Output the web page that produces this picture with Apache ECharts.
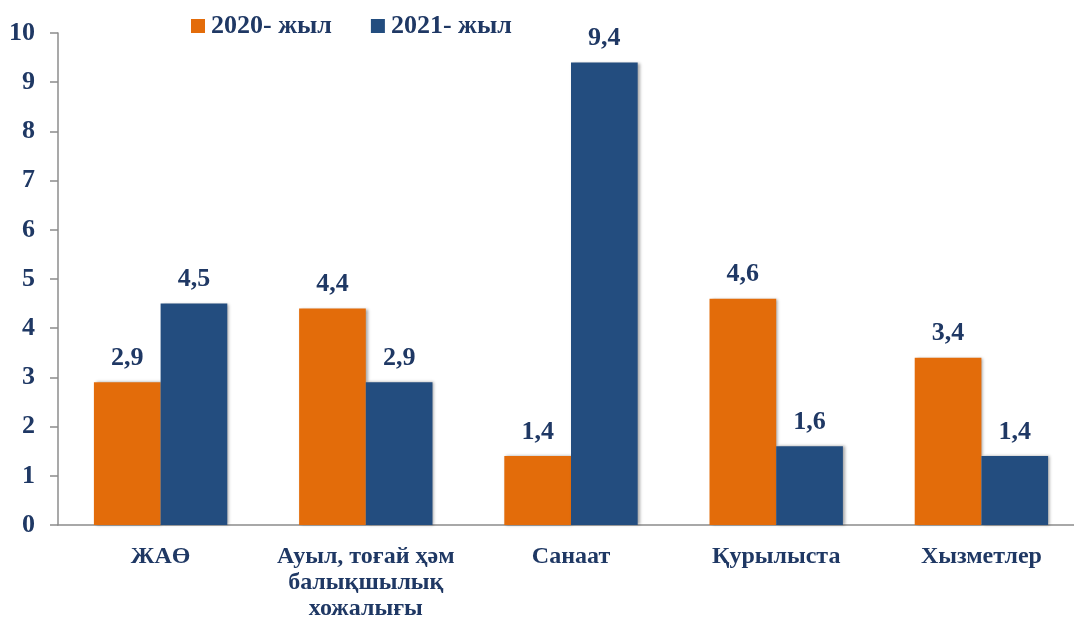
<!DOCTYPE html>
<html><head><meta charset="utf-8">
<script src="https://cdn.jsdelivr.net/npm/echarts@6/dist/echarts.min.js"></script>
<style>html,body{margin:0;padding:0;background:#fff}#c{width:1074px;height:619px}</style>
</head><body><div id="c"></div>
<script>
const categories = ['ЖАӨ', 'Ауыл, тоғай ҳәм\nбалықшылық\nхожалығы', 'Санаат', 'Қурылыста', 'Хызметлер'];
const seriesNames = ['2020- жыл', '2021- жыл'];
const values2020 = [2.9, 4.4, 1.4, 4.6, 3.4];
const values2021 = [4.5, 2.9, 9.4, 1.6, 1.4];
const yTicks = [0, 1, 2, 3, 4, 5, 6, 7, 8, 9, 10];

const txt = '#1F3864';
const font = 'Liberation Serif';
const fmt = p => String(p.value).replace('.', ',');
const shadow = {shadowColor:'rgba(0,0,0,0.35)', shadowBlur:3, shadowOffsetX:2, shadowOffsetY:0};
const chart = echarts.init(document.getElementById('c'));
chart.setOption({
  animation:false,
  textStyle:{fontFamily:font},
  legend:{left:186, top:8, itemWidth:14, itemHeight:14, itemGap:39,
    icon:'rect',
    textStyle:{color:txt, fontSize:26, fontWeight:'bold', fontFamily:font, padding:[0,0,0,1]},
    data:seriesNames},
  grid:{left:58, top:33, width:1026, height:492, containLabel:false, outerBoundsMode:'none'},
  xAxis:{type:'category', data:categories,
    axisLine:{lineStyle:{color:'#8c8c8c', width:1.5}},
    axisTick:{inside:true, length:8, lineStyle:{color:'#8c8c8c', width:1.5}},
    axisLabel:{color:txt, fontSize:24, fontWeight:'bold', fontFamily:font, margin:19, lineHeight:26, interval:0}},
  yAxis:{type:'value', min:0, max:10, interval:1,
    axisLine:{show:true, lineStyle:{color:'#8c8c8c', width:1.5}},
    axisTick:{show:true, length:8, lineStyle:{color:'#8c8c8c', width:1.5}},
    splitLine:{show:false},
    axisLabel:{color:txt, fontSize:26, fontWeight:'bold', fontFamily:font, margin:23,
      formatter:v => yTicks.includes(v) ? String(v) : ''}},
  series:[
    {name:seriesNames[0], type:'bar', data:values2020, barGap:'0%', barCategoryGap:'35%',
     itemStyle:Object.assign({color:'#E36C0A'}, shadow),
     label:{show:true, position:'top', distance:11, formatter:fmt, color:txt, fontSize:26, fontWeight:'bold', fontFamily:font}},
    {name:seriesNames[1], type:'bar', data:values2021,
     itemStyle:Object.assign({color:'#234D7F'}, shadow),
     label:{show:true, position:'top', distance:11, formatter:fmt, color:txt, fontSize:26, fontWeight:'bold', fontFamily:font}}
  ]
});
</script></body></html>
